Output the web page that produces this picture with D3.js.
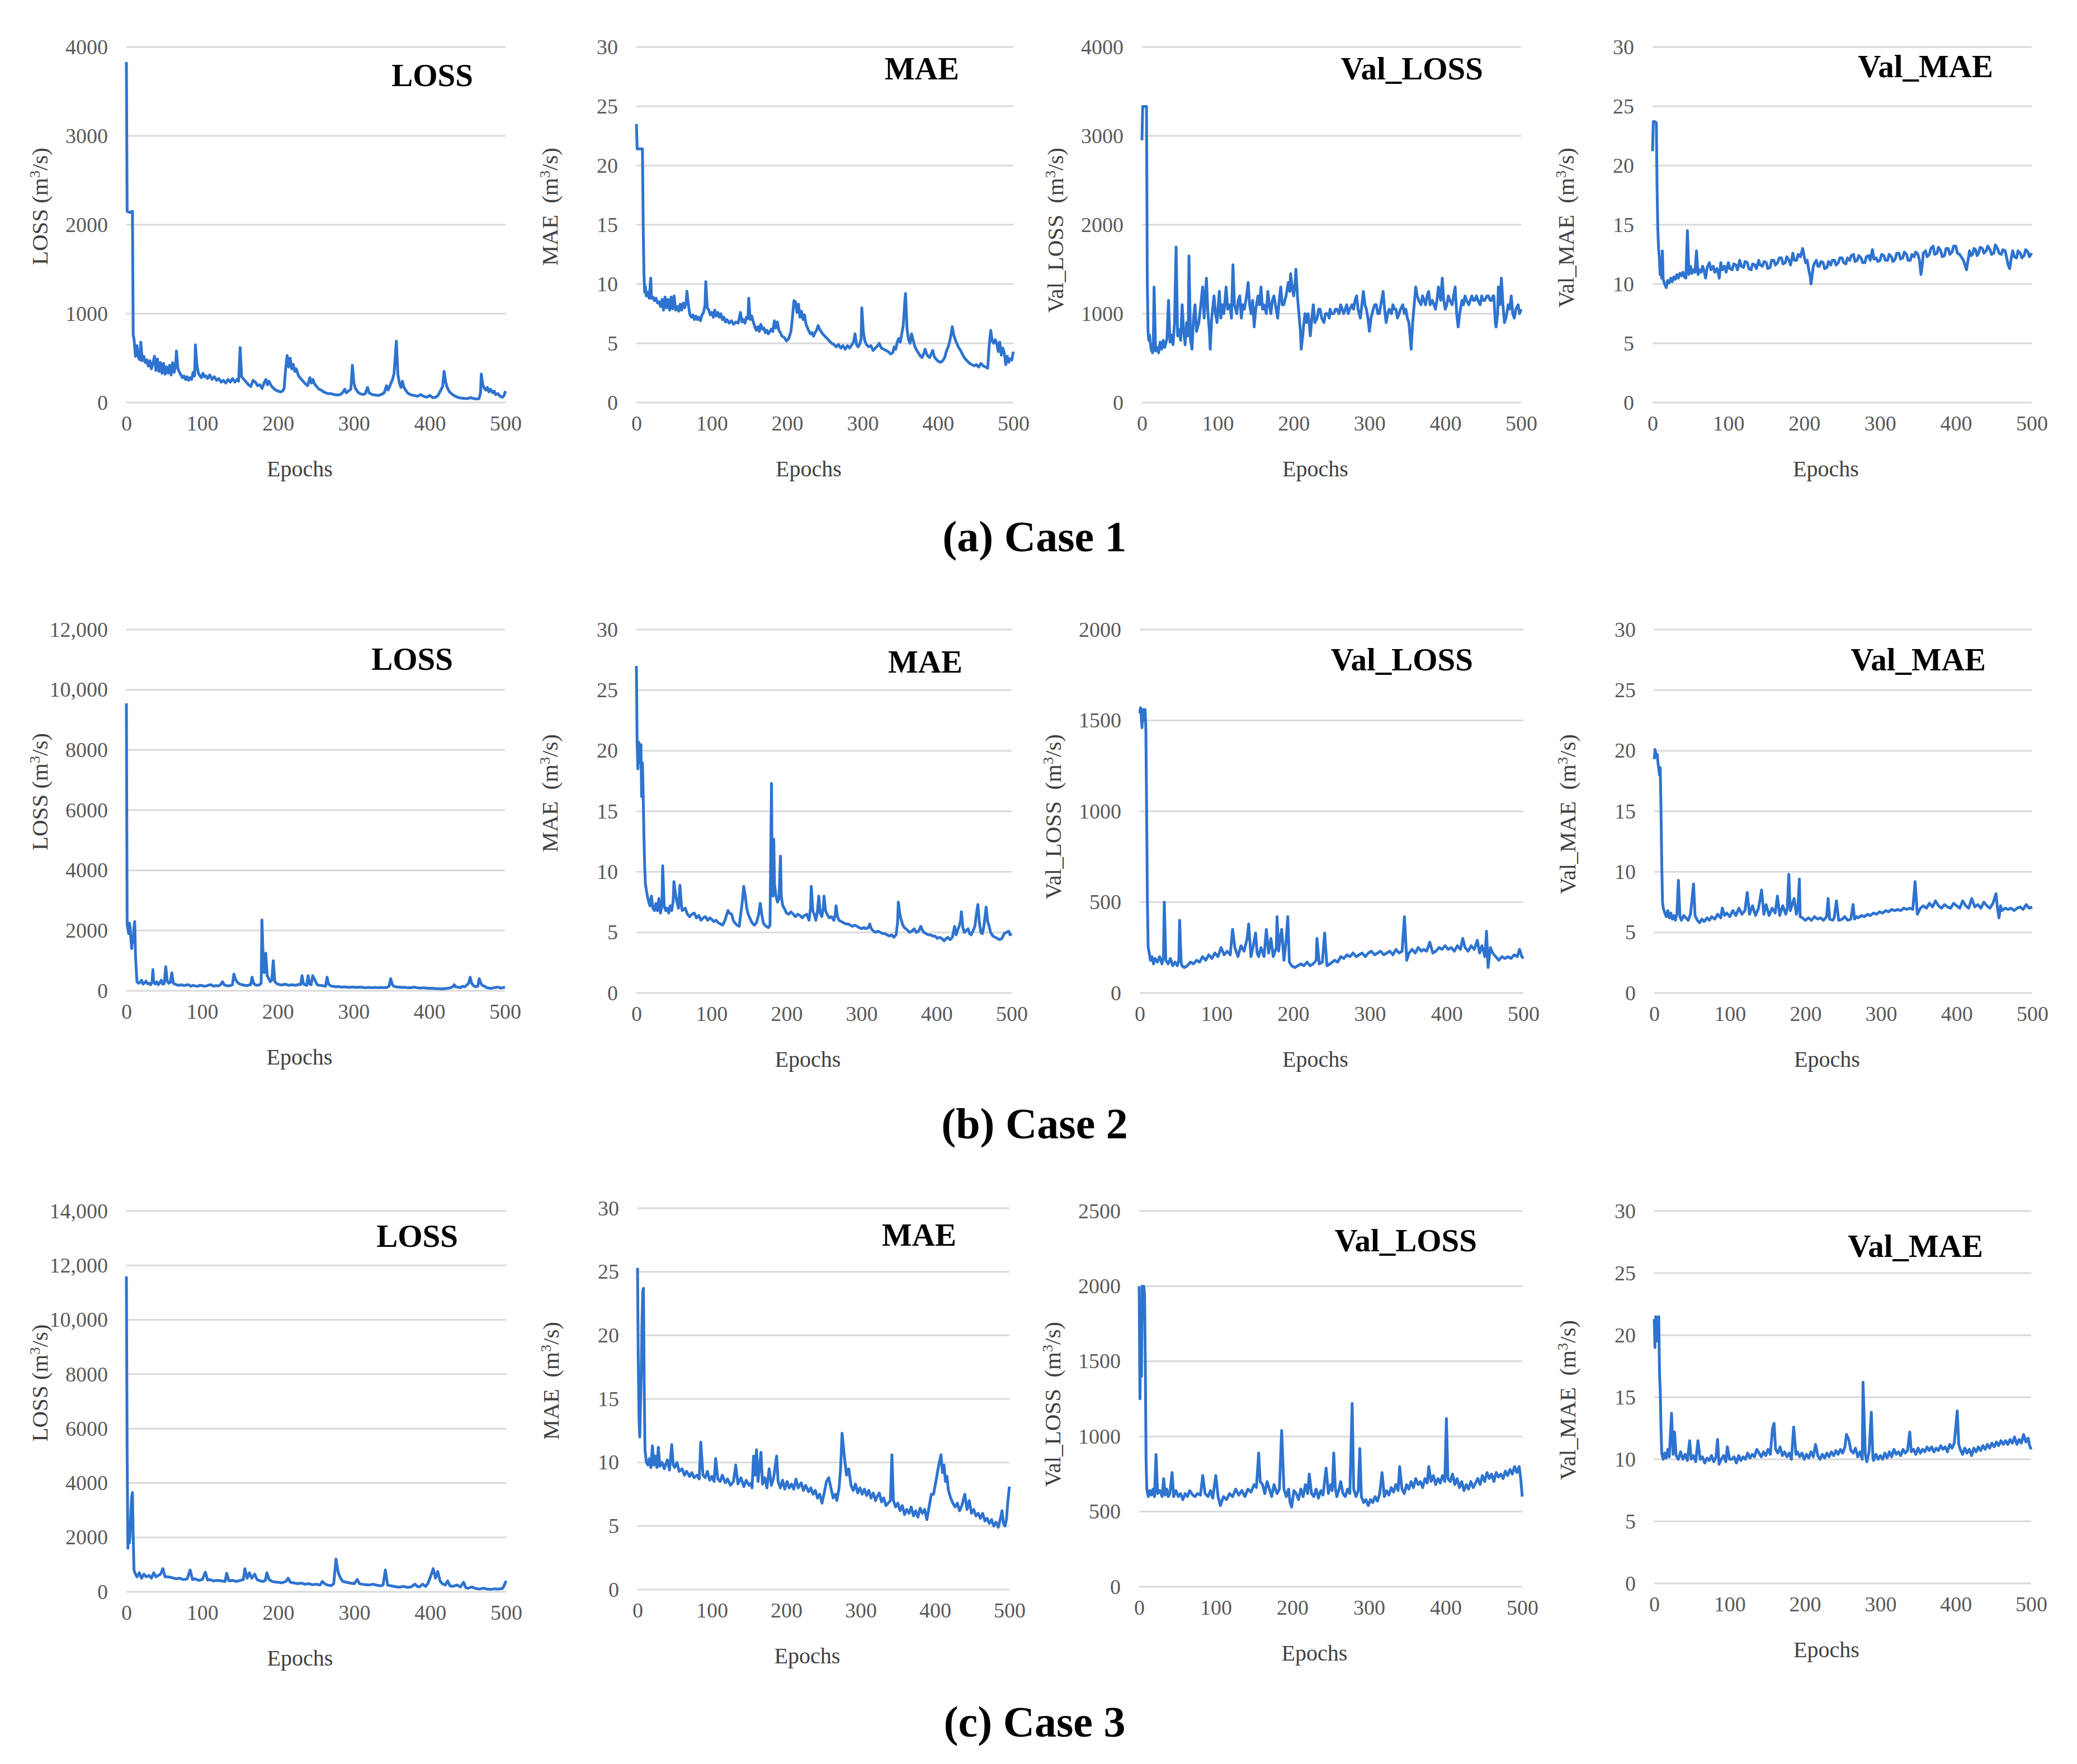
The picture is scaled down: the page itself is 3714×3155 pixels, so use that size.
<!DOCTYPE html>
<html>
<head>
<meta charset="utf-8">
<script src="https://cdn.jsdelivr.net/npm/d3@7"></script>
<style>
  body { margin: 0; background: #ffffff; }
  svg text { font-family: "Liberation Serif", "Times New Roman", serif; }
</style>
</head>
<body>
<div id="wrapper"></div>
<script>
// ---- values: [epoch, value] ----
const epochTicks = [0, 100, 200, 300, 400, 500];
const panelTitles = ["LOSS", "MAE", "Val_LOSS", "Val_MAE"];
const yLabelNames = ["LOSS ", "MAE  ", "Val_LOSS  ", "Val_MAE  "];
const caseLabels = ["(a) Case 1", "(b) Case 2", "(c) Case 3"];
const yMaxByCase = [[4000, 30, 4000, 30], [12000, 30, 2000, 30], [14000, 30, 2500, 30]];
const yStepByCase = [[1000, 5, 1000, 5], [2000, 5, 500, 5], [2000, 5, 500, 5]];

const case1Loss = [[0,3830],[1,2150],[4,2140],[8,2150],[9,760],[10,720],[12,520],[14,640],[16,500],[18,480],[19,680],[21,470],[23,520],[25,450],[27,480],[29,410],[31,470],[33,380],[35,440],[37,520],[39,360],[41,490],[43,350],[45,450],[47,330],[49,440],[51,320],[53,400],[55,330],[57,420],[59,310],[61,450],[63,340],[65,420],[66,580],[68,380],[70,340],[72,310],[74,280],[76,300],[78,260],[80,290],[82,250],[84,280],[86,260],[88,340],[90,300],[91,650],[93,420],[95,330],[97,300],[99,280],[101,330],[103,290],[105,300],[107,270],[110,310],[113,260],[116,290],[119,250],[122,270],[125,230],[128,250],[131,220],[134,260],[137,230],[140,270],[143,230],[146,260],[148,240],[150,620],[152,290],[155,260],[158,230],[161,200],[164,180],[167,250],[170,230],[173,190],[176,200],[179,160],[182,230],[184,260],[186,200],[188,240],[191,190],[194,160],[197,140],[200,130],[203,120],[206,130],[208,160],[210,380],[212,530],[214,400],[216,500],[218,380],[220,430],[222,350],[224,380],[227,300],[230,270],[233,240],[236,210],[239,190],[242,280],[244,220],[246,260],[248,210],[251,180],[254,150],[257,140],[260,120],[263,110],[266,100],[270,100],[274,90],[278,85],[282,90],[285,110],[288,150],[290,110],[293,130],[296,150],[298,420],[300,220],[302,160],[305,120],[308,100],[312,90],[315,100],[318,170],[320,110],[324,90],[328,85],[332,80],[336,90],[340,110],[343,190],[345,140],[348,200],[351,260],[353,330],[356,690],[358,320],[360,220],[362,170],[364,240],[366,170],[369,130],[372,100],[376,85],[380,80],[384,70],[388,90],[392,70],[396,60],[400,80],[404,55],[408,60],[411,80],[414,130],[417,180],[419,350],[421,230],[423,170],[426,120],[430,90],[434,70],[438,55],[442,50],[446,45],[450,45],[454,55],[458,45],[462,40],[465,45],[467,110],[468,320],[470,200],[472,160],[474,140],[476,170],[478,120],[480,150],[483,110],[485,130],[487,90],[490,100],[493,70],[496,60],[498,80],[500,130]];

const case1Mae = [[0,23.5],[1,21.4],[4,21.4],[8,21.4],[9,15],[10,10.9],[11,9.3],[12,9.8],[13,9.0],[15,9.3],[17,8.8],[19,10.5],[20,8.8],[22,8.9],[24,8.6],[26,8.8],[28,8.4],[30,8.5],[32,8.1],[34,8.7],[36,7.8],[38,8.9],[40,8.0],[42,8.7],[44,7.8],[46,8.9],[48,7.9],[50,9.0],[52,7.8],[54,8.1],[56,7.7],[58,8.3],[60,7.8],[62,8.4],[64,8.0],[66,8.5],[67,9.4],[69,8.2],[71,7.4],[73,7.2],[75,7.4],[77,7.0],[79,7.3],[81,7.0],[83,7.2],[85,6.9],[87,7.4],[89,7.6],[91,8.2],[92,10.2],[94,8.0],[96,7.8],[98,7.4],[100,7.6],[102,7.2],[104,7.8],[106,7.3],[108,7.6],[110,7.2],[112,7.5],[114,7.0],[116,7.2],[118,6.8],[120,7.0],[123,6.7],[126,6.9],[129,6.6],[132,6.8],[135,6.7],[138,7.6],[140,6.8],[142,7.0],[144,6.7],[146,7.2],[148,7.1],[149,8.8],[151,7.0],[153,7.3],[155,6.8],[157,6.4],[159,6.1],[161,6.4],[163,6.0],[165,6.6],[167,6.2],[169,6.3],[171,5.9],[173,6.1],[175,5.8],[177,6.0],[179,6.2],[181,6.0],[183,6.9],[185,6.3],[187,6.8],[189,6.1],[191,5.9],[193,5.6],[196,5.5],[199,5.2],[202,5.4],[205,6.0],[207,7.2],[209,8.6],[211,8.5],[213,7.6],[215,8.3],[217,7.2],[219,7.7],[221,7.0],[223,7.4],[225,6.6],[227,6.3],[229,6.0],[231,5.8],[233,5.9],[235,5.6],[237,5.9],[239,6.1],[241,6.5],[243,6.2],[245,6.0],[247,5.8],[250,5.6],[253,5.4],[256,5.2],[259,5.0],[262,4.9],[265,4.7],[268,4.9],[271,4.6],[274,4.8],[277,4.5],[280,4.8],[283,4.6],[286,4.9],[288,5.1],[290,5.8],[292,4.9],[294,4.7],[296,4.9],[298,5.3],[299,8.0],[301,6.0],[303,5.2],[305,4.9],[308,4.7],[311,4.8],[314,4.4],[317,4.6],[320,4.8],[322,5.0],[325,4.6],[328,4.5],[331,4.4],[334,4.3],[337,4.1],[340,4.2],[342,4.7],[344,4.5],[346,5.1],[348,5.4],[350,5.1],[352,5.8],[354,6.5],[356,8.5],[357,9.2],[359,6.2],[361,5.3],[363,5.0],[365,5.8],[367,5.3],[369,4.8],[371,4.5],[373,4.3],[375,4.1],[377,3.9],[379,3.8],[381,4.1],[383,4.5],[385,4.1],[387,3.9],[389,3.8],[391,4.1],[393,4.4],[395,3.9],[397,3.7],[400,3.5],[403,3.4],[406,3.5],[409,3.8],[411,4.3],[413,4.6],[415,5.0],[417,5.6],[419,6.4],[421,5.7],[423,5.3],[425,5.0],[427,4.7],[430,4.4],[433,4.0],[436,3.7],[439,3.5],[442,3.3],[445,3.2],[448,3.1],[451,3.2],[454,3.0],[457,3.3],[460,3.1],[463,3.0],[466,2.9],[468,4.8],[470,6.1],[472,5.2],[474,5.0],[476,5.3],[478,5.0],[480,4.3],[482,5.1],[484,4.0],[486,4.6],[488,4.2],[490,3.2],[492,3.9],[494,3.4],[496,3.7],[498,3.6],[500,4.3]];

const case1ValLoss = [[0,2950],[1,3330],[3,3330],[6,3330],[7,1380],[8,800],[9,700],[10,760],[12,600],[14,560],[15,650],[16,1300],[18,580],[20,620],[22,560],[24,680],[26,600],[28,700],[30,620],[33,720],[35,1150],[37,680],[39,760],[41,650],[43,900],[45,1750],[47,750],[49,820],[51,700],[53,1100],[55,800],[57,650],[59,900],[61,750],[62,1650],[64,700],[66,600],[68,950],[70,1100],[72,800],[75,900],[77,1050],[80,1300],[82,950],[85,1400],[87,1000],[89,800],[90,600],[92,950],[95,1200],[97,1000],[99,900],[102,1250],[104,950],[106,1100],[108,1000],[111,1300],[113,1050],[116,1100],[118,950],[120,1550],[122,1100],[125,1000],[127,1150],[129,1200],[131,950],[133,1100],[135,1050],[138,1200],[140,1350],[142,1100],[144,1000],[146,1150],[148,850],[150,1050],[153,1200],[155,1100],[157,1300],[159,1050],[161,1100],[164,1000],[166,1250],[168,1100],[170,1000],[172,1150],[174,1200],[177,1050],[179,950],[181,1150],[183,1300],[185,1100],[187,1100],[190,1200],[193,1350],[195,1250],[196,1450],[198,1300],[200,1200],[202,1350],[203,1500],[205,1200],[207,1000],[209,800],[210,600],[212,750],[213,850],[215,1000],[217,900],[219,1000],[221,850],[222,750],[224,950],[226,1100],[228,900],[231,950],[233,1050],[235,1050],[237,950],[240,900],[242,1000],[245,1000],[247,950],[248,1050],[250,1000],[253,1000],[255,1050],[257,1050],[260,1000],[262,1100],[264,1050],[266,1000],[268,1050],[270,1100],[272,1000],[274,1050],[277,1100],[279,1050],[281,1150],[283,1200],[285,1050],[288,950],[290,1100],[292,1250],[294,1100],[296,1050],[298,950],[300,800],[302,950],[305,1050],[307,1100],[309,1100],[311,1000],[313,1000],[315,1100],[318,1250],[320,1050],[322,900],[324,1000],[326,1050],[329,1000],[331,1100],[333,1050],[335,1050],[337,950],[339,1000],[341,1050],[344,1100],[346,1000],[348,1050],[350,950],[352,900],[355,600],[357,900],[359,1100],[361,1300],[363,1200],[365,1150],[368,1100],[370,1200],[372,1150],[374,1100],[376,1200],[378,1250],[380,1100],[383,1150],[385,1100],[387,1050],[389,1150],[391,1300],[394,1150],[396,1400],[398,1150],[400,1050],[402,1100],[404,1200],[406,1150],[409,1100],[411,1200],[413,1300],[415,1000],[417,850],[419,1000],[422,1150],[424,1100],[426,1200],[428,1150],[431,1100],[433,1150],[435,1200],[437,1150],[439,1150],[441,1200],[443,1150],[446,1100],[448,1200],[450,1150],[452,1150],[455,1200],[457,1200],[459,1150],[461,1150],[463,1200],[464,1200],[466,900],[467,850],[469,1000],[470,1300],[472,1100],[474,1400],[476,1100],[478,900],[480,950],[483,1100],[485,1050],[487,1200],[489,1000],[491,950],[493,1050],[496,1100],[498,1000],[500,1050]];

const case1ValMae = [[0,21.2],[1,23.7],[3,23.7],[5,23.6],[6,18],[7,14.5],[8,13.0],[9,12.2],[10,10.8],[11,11.5],[12,10.5],[13,12.8],[14,10.4],[16,10.0],[18,9.7],[20,10.3],[22,10.1],[24,10.5],[26,10.2],[28,10.6],[30,10.4],[32,10.8],[34,10.5],[36,10.9],[38,10.7],[40,11.0],[42,10.6],[44,10.5],[46,14.5],[48,10.8],[50,11.5],[52,10.9],[54,11.2],[56,11.0],[58,12.8],[60,10.8],[62,11.2],[64,11.0],[66,11.5],[68,11.1],[70,10.5],[72,11.4],[75,11.8],[77,11.2],[80,11.5],[82,11.0],[85,11.3],[87,10.8],[88,10.5],[90,11.8],[92,11.2],[95,11.5],[97,11.0],[100,11.8],[102,11.3],[105,11.2],[107,11.7],[110,11.6],[112,11.2],[115,12.0],[117,11.5],[120,11.4],[122,11.9],[125,11.8],[127,11.3],[130,11.2],[132,11.7],[135,11.6],[137,11.3],[140,12.0],[142,11.6],[145,11.5],[147,11.9],[150,11.8],[152,11.3],[155,11.4],[157,12.0],[160,12.0],[162,11.6],[165,11.8],[167,12.2],[170,12.2],[172,11.7],[175,11.8],[177,12.3],[180,12.0],[182,11.6],[185,12.6],[187,12.0],[190,12.0],[192,12.5],[195,12.3],[198,13.0],[200,12.3],[202,11.8],[204,12.0],[206,11.2],[208,10.6],[209,10.0],[211,11.0],[212,11.5],[214,11.8],[216,12.0],[218,11.5],[220,11.5],[222,11.9],[225,11.8],[227,11.3],[230,11.4],[232,11.9],[235,11.6],[237,12.0],[240,12.0],[242,11.6],[245,11.8],[247,12.2],[250,12.2],[252,11.8],[255,11.7],[257,12.2],[260,12.0],[262,12.4],[265,12.5],[267,11.9],[270,12.0],[272,12.4],[275,12.2],[277,11.8],[280,11.8],[282,12.3],[285,12.4],[287,12.0],[290,12.9],[292,12.1],[295,12.2],[297,11.9],[300,12.0],[302,12.5],[305,12.4],[307,12.0],[310,12.0],[312,12.5],[315,12.3],[317,11.9],[320,12.1],[322,12.6],[325,12.6],[327,12.1],[330,12.2],[332,12.7],[335,12.5],[337,12.0],[340,12.0],[342,12.5],[345,12.3],[347,12.7],[350,12.5],[352,12.0],[354,10.8],[356,11.8],[357,12.6],[360,12.8],[362,12.3],[365,12.5],[367,13.0],[370,13.2],[372,12.5],[375,12.6],[377,13.1],[380,12.8],[382,12.3],[385,12.4],[387,13.0],[390,13.0],[392,12.5],[395,12.7],[397,13.2],[400,13.2],[402,12.6],[405,12.5],[408,12.2],[410,12.0],[412,11.6],[414,11.2],[416,12.0],[418,12.8],[420,12.4],[422,12.5],[424,13.0],[426,12.9],[428,12.4],[430,12.6],[432,13.1],[435,13.0],[437,12.6],[440,12.8],[442,13.2],[445,12.9],[447,12.5],[450,12.6],[452,13.3],[455,13.0],[457,12.6],[460,12.5],[462,12.9],[465,12.8],[467,12.2],[469,11.6],[471,11.3],[473,12.2],[475,12.8],[477,12.3],[480,12.2],[482,12.8],[485,12.6],[487,12.2],[490,12.4],[492,12.9],[495,12.7],[497,12.3],[500,12.6]];

const case2Loss = [[0,9550],[1,2200],[2,2050],[3,1900],[4,2250],[5,2100],[6,1700],[7,1400],[8,1800],[9,1600],[10,2100],[11,2300],[12,1200],[13,700],[14,300],[16,250],[18,280],[20,350],[22,220],[24,260],[26,320],[28,230],[30,250],[32,200],[34,300],[35,700],[36,280],[38,230],[40,300],[42,200],[44,260],[46,350],[48,220],[50,240],[52,800],[54,320],[56,250],[58,280],[60,600],[62,250],[64,220],[66,200],[68,190],[70,180],[73,200],[76,170],[79,190],[82,200],[85,150],[88,180],[91,160],[94,150],[97,180],[100,170],[103,150],[106,160],[109,190],[112,200],[115,150],[118,170],[121,160],[124,190],[127,300],[129,200],[131,180],[134,160],[137,170],[140,200],[142,550],[144,380],[146,300],[148,250],[150,220],[153,200],[156,180],[159,170],[162,190],[164,200],[166,450],[168,250],[170,200],[173,180],[176,200],[178,250],[179,2350],[181,800],[182,600],[184,1250],[186,500],[188,400],[190,300],[192,350],[194,1000],[196,300],[198,250],[200,220],[203,200],[206,190],[209,220],[212,200],[215,180],[218,200],[221,190],[224,180],[227,210],[230,200],[232,500],[234,220],[236,200],[238,180],[240,500],[242,220],[244,200],[246,500],[248,400],[250,300],[252,200],[255,180],[258,170],[261,160],[263,150],[265,450],[267,220],[270,160],[273,150],[276,130],[279,140],[282,130],[285,120],[288,130],[291,120],[294,110],[297,120],[300,120],[304,110],[308,120],[312,110],[316,100],[320,110],[324,100],[328,110],[332,100],[336,110],[340,100],[344,110],[347,150],[349,400],[351,220],[353,150],[356,130],[360,120],[364,110],[368,110],[372,100],[376,100],[380,120],[384,100],[388,90],[392,100],[396,90],[400,80],[404,85],[408,70],[412,70],[416,60],[420,70],[424,80],[428,100],[431,130],[433,200],[435,130],[438,120],[441,100],[444,150],[447,130],[450,200],[452,250],[454,450],[456,250],[458,180],[461,130],[464,150],[466,400],[468,250],[470,180],[473,150],[476,100],[479,90],[482,80],[485,100],[488,110],[491,120],[494,90],[497,100],[500,120]];

const case2Mae = [[0,27.0],[1,20.5],[2,18.5],[3,20.7],[4,20.3],[5,19.0],[6,20.5],[7,16.2],[8,19.0],[9,16.5],[10,13.0],[11,10.5],[12,9.0],[14,8.2],[16,7.6],[18,7.2],[20,8.0],[22,7.0],[24,6.8],[26,7.4],[28,6.8],[30,7.8],[32,6.6],[34,7.2],[35,10.5],[37,7.2],[39,6.8],[41,7.0],[43,6.6],[45,7.2],[47,6.8],[49,7.6],[50,9.2],[52,8.2],[54,7.5],[56,7.0],[58,8.9],[60,7.2],[61,6.8],[63,6.9],[65,7.0],[68,6.5],[71,6.3],[74,6.5],[77,6.6],[80,6.2],[83,6.4],[86,6.0],[89,6.2],[92,6.3],[95,6.0],[98,6.2],[100,6.1],[103,5.9],[106,6.0],[109,5.8],[112,5.7],[115,5.6],[118,6.0],[120,6.4],[122,6.8],[124,6.6],[127,6.5],[129,6.0],[131,5.8],[134,5.6],[137,5.5],[139,6.5],[141,7.5],[143,8.8],[145,8.0],[147,7.0],[149,6.5],[151,6.2],[154,5.8],[157,5.6],[160,5.8],[163,6.5],[165,7.4],[167,6.5],[169,5.8],[171,5.6],[173,5.5],[176,5.4],[178,5.6],[180,17.3],[181,9.0],[182,8.0],[183,12.7],[184,9.0],[186,8.0],[188,7.5],[190,7.8],[192,11.3],[193,8.0],[195,7.2],[197,7.0],[200,6.6],[203,6.5],[206,6.7],[209,6.5],[212,6.3],[215,6.5],[218,6.4],[221,6.2],[224,6.4],[227,6.5],[230,6.0],[232,7.0],[233,8.8],[235,6.8],[237,6.5],[239,6.0],[241,6.6],[243,8.0],[245,6.6],[247,6.3],[249,7.0],[250,8.0],[252,6.8],[254,6.5],[257,6.2],[260,6.3],[263,6.0],[265,6.5],[266,7.2],[268,6.3],[270,6.0],[273,5.9],[276,5.8],[279,5.7],[282,5.7],[285,5.6],[288,5.5],[291,5.6],[294,5.5],[297,5.4],[300,5.3],[303,5.4],[306,5.3],[309,5.4],[311,5.7],[313,5.3],[316,5.1],[319,5.0],[322,5.1],[325,5.0],[328,4.9],[331,4.9],[334,4.8],[337,4.7],[340,4.8],[343,4.6],[346,4.8],[348,5.8],[349,7.5],[351,6.5],[353,6.0],[355,5.6],[357,5.4],[359,5.3],[361,5.2],[364,5.0],[367,5.1],[370,5.3],[373,5.0],[376,5.1],[379,5.5],[381,5.2],[383,5.0],[386,4.9],[389,4.8],[392,4.8],[395,4.7],[398,4.7],[401,4.5],[404,4.6],[407,4.5],[410,4.3],[413,4.5],[415,4.6],[418,4.4],[421,4.6],[424,5.5],[426,4.8],[428,5.2],[430,5.5],[432,6.0],[433,6.7],[435,5.4],[437,5.0],[440,5.2],[442,5.3],[444,4.9],[446,4.8],[449,5.2],[451,5.5],[453,6.5],[455,7.3],[457,5.8],[459,5.0],[461,4.9],[463,5.5],[466,7.1],[468,5.9],[470,5.5],[472,5.0],[475,4.7],[478,4.6],[481,4.5],[484,4.4],[487,4.5],[490,4.9],[493,5.0],[496,5.1],[498,4.8],[500,4.9]];

const case2ValLoss = [[0,1540],[1,1570],[2,1520],[3,1460],[4,1560],[5,1550],[6,1500],[7,1560],[8,1450],[9,1000],[10,500],[11,250],[12,230],[14,180],[16,200],[18,160],[20,190],[23,170],[26,200],[29,160],[31,200],[32,500],[34,180],[37,160],[40,190],[43,150],[46,170],[49,150],[51,180],[52,400],[54,170],[55,150],[58,140],[62,150],[66,170],[70,160],[74,180],[78,170],[82,200],[86,180],[90,210],[94,190],[98,220],[102,200],[106,250],[110,210],[114,230],[118,210],[121,350],[124,250],[128,200],[132,260],[136,230],[140,300],[142,380],[145,200],[148,260],[151,330],[153,220],[155,200],[158,250],[162,200],[165,350],[168,220],[171,300],[174,200],[178,250],[179,420],[181,230],[183,300],[185,350],[188,180],[191,300],[193,420],[195,170],[198,150],[202,140],[206,150],[210,160],[214,150],[218,170],[222,150],[226,160],[230,180],[231,300],[234,160],[238,170],[241,330],[244,150],[248,160],[251,170],[254,180],[258,170],[262,200],[266,190],[270,210],[274,200],[278,220],[282,200],[286,210],[290,220],[294,200],[298,220],[302,230],[306,210],[310,220],[314,230],[318,210],[322,220],[326,230],[330,210],[334,240],[338,220],[342,230],[345,420],[348,180],[351,220],[355,240],[359,220],[363,250],[367,230],[370,240],[374,230],[378,280],[382,220],[386,230],[390,250],[394,240],[398,260],[402,240],[406,250],[410,230],[414,260],[418,240],[421,300],[424,250],[428,230],[432,260],[436,240],[440,290],[443,220],[446,260],[450,200],[452,340],[454,140],[457,250],[460,220],[464,200],[468,180],[472,200],[476,190],[480,200],[484,190],[488,210],[492,200],[495,240],[498,200],[500,190]];

const case2ValMae = [[0,19.3],[1,20.1],[2,19.8],[3,19.5],[4,19.7],[5,19.0],[6,18.5],[7,18.0],[8,18.6],[9,15.0],[10,10.5],[11,7.5],[12,7.0],[14,6.6],[16,6.3],[18,6.8],[20,6.2],[22,6.6],[24,6.1],[26,6.4],[28,6.0],[30,6.5],[32,9.3],[34,6.3],[36,6.0],[39,6.4],[42,6.2],[45,6.0],[48,6.5],[52,9.0],[54,6.4],[57,6.0],[60,5.8],[63,6.1],[66,5.9],[70,6.2],[73,6.0],[76,6.3],[80,6.1],[84,6.5],[88,6.2],[90,7.0],[93,6.4],[96,6.6],[100,6.3],[104,6.8],[108,6.4],[112,7.0],[116,6.5],[120,6.8],[123,8.3],[126,6.5],[130,7.2],[134,6.4],[138,7.0],[142,8.5],[145,6.5],[148,7.3],[152,6.4],[156,7.0],[160,6.6],[163,8.0],[166,6.4],[170,7.2],[174,6.5],[176,7.0],[178,9.8],[180,6.8],[182,7.2],[185,7.8],[188,6.5],[190,7.0],[192,9.4],[193,6.3],[196,6.2],[200,6.0],[204,6.2],[208,6.0],[212,6.3],[216,6.1],[220,6.2],[224,6.0],[228,6.3],[230,7.8],[232,6.1],[236,6.0],[238,6.2],[241,7.6],[244,6.0],[249,6.1],[252,6.3],[256,6.0],[260,6.1],[263,7.3],[265,6.1],[268,6.3],[270,6.2],[274,6.4],[278,6.3],[282,6.5],[286,6.4],[290,6.6],[294,6.5],[298,6.7],[302,6.6],[306,6.8],[310,6.7],[314,6.9],[318,6.8],[322,6.9],[326,6.8],[330,7.0],[334,6.9],[338,7.0],[342,6.9],[345,9.2],[348,6.5],[352,7.0],[356,7.2],[360,7.0],[364,7.4],[368,7.1],[372,7.6],[376,7.2],[380,7.0],[384,7.3],[388,7.1],[392,7.0],[396,7.4],[400,7.2],[404,7.0],[408,7.6],[412,7.2],[416,7.0],[420,7.8],[424,7.1],[428,7.3],[432,7.0],[436,7.5],[440,7.2],[444,7.0],[448,7.4],[452,8.2],[454,7.0],[456,6.2],[458,7.2],[460,6.8],[464,7.0],[468,6.9],[472,7.0],[476,6.8],[480,7.0],[484,7.1],[488,6.9],[492,7.3],[496,7.0],[500,7.1]];

const case3Loss = [[0,11600],[1,5000],[2,1600],[3,2500],[4,1800],[5,2200],[6,3000],[7,3500],[8,3650],[9,2000],[10,800],[12,650],[14,550],[17,700],[20,500],[23,650],[26,550],[30,600],[33,500],[36,700],[39,550],[42,600],[45,650],[48,850],[51,550],[55,550],[60,520],[65,480],[70,500],[75,450],[80,470],[84,800],[87,450],[90,480],[95,420],[100,450],[104,720],[107,430],[110,450],[115,400],[120,420],[125,400],[130,380],[132,680],[135,400],[140,420],[145,380],[150,420],[154,450],[156,850],[159,500],[162,700],[165,500],[169,650],[172,450],[176,400],[180,380],[183,420],[185,700],[188,450],[192,380],[196,360],[200,350],[205,330],[210,380],[213,500],[216,350],[220,330],[225,300],[230,320],[235,280],[240,300],[245,260],[250,280],[255,250],[258,380],[262,280],[266,240],[270,230],[273,300],[276,1200],[279,700],[282,500],[285,380],[290,350],[295,320],[300,300],[304,450],[307,300],[310,280],[315,260],[320,250],[325,280],[330,240],[335,220],[338,250],[341,800],[344,250],[348,220],[352,200],[356,180],[360,170],[365,200],[370,160],[375,180],[380,280],[383,200],[386,180],[390,280],[394,200],[397,300],[401,600],[404,850],[407,500],[410,750],[413,400],[416,300],[420,250],[423,400],[426,220],[430,200],[435,250],[440,180],[444,350],[447,150],[450,130],[455,180],[460,120],[465,100],[470,130],[475,100],[480,90],[485,110],[490,100],[495,120],[497,200],[500,400]];

const case3Mae = [[0,25.3],[1,18.0],[2,13.5],[3,12.0],[4,14.5],[5,17.0],[6,21.0],[7,23.5],[8,23.7],[9,16.0],[10,11.0],[12,10.0],[14,9.8],[16,10.3],[18,9.6],[20,11.3],[22,9.8],[24,10.5],[26,9.6],[28,11.2],[30,9.7],[33,10.0],[36,9.5],[40,10.2],[43,9.4],[46,11.4],[48,9.8],[50,9.6],[53,10.0],[56,9.3],[60,9.5],[63,9.0],[66,9.3],[70,8.9],[73,9.2],[76,8.8],[80,9.0],[83,8.7],[85,11.6],[88,9.0],[91,8.8],[94,9.3],[97,8.6],[100,8.9],[103,8.5],[105,10.3],[108,8.7],[111,8.5],[114,9.0],[118,8.4],[121,8.7],[125,8.2],[129,8.5],[132,9.8],[135,8.3],[139,8.8],[143,8.1],[146,8.6],[150,8.2],[153,8.4],[154,8.0],[156,10.5],[158,9.0],[160,11.0],[162,8.5],[166,10.8],[168,8.3],[171,8.8],[174,8.0],[177,9.5],[180,8.2],[183,8.8],[187,10.5],[189,8.5],[192,8.0],[195,8.6],[198,7.9],[201,8.5],[204,8.0],[207,8.3],[210,7.9],[213,8.7],[216,8.0],[220,8.4],[223,7.8],[226,8.2],[230,7.7],[233,8.0],[236,7.5],[239,7.8],[242,7.2],[245,7.5],[248,6.8],[251,7.6],[254,8.5],[257,8.8],[260,8.0],[263,7.2],[266,7.5],[268,7.0],[271,8.0],[273,9.5],[275,12.3],[278,10.5],[281,9.0],[284,9.5],[287,8.2],[290,7.8],[293,8.3],[296,7.6],[299,8.0],[302,7.5],[305,7.9],[308,7.4],[311,7.8],[314,7.2],[317,7.6],[320,7.0],[322,7.3],[325,7.6],[328,6.9],[331,7.2],[334,6.6],[337,6.8],[340,7.0],[342,10.6],[344,7.0],[347,6.5],[350,6.8],[353,6.2],[356,6.6],[359,5.9],[362,6.3],[365,6.0],[368,6.5],[371,5.8],[374,6.2],[377,5.7],[380,6.4],[383,6.0],[386,6.3],[389,5.5],[392,6.5],[395,7.5],[398,7.5],[402,8.8],[405,9.8],[408,10.6],[410,9.2],[412,9.8],[414,8.5],[416,8.9],[418,7.8],[421,7.2],[424,6.8],[427,6.5],[430,6.8],[433,6.2],[436,6.6],[440,7.5],[443,6.3],[446,7.0],[449,6.0],[452,6.3],[455,5.8],[458,6.0],[461,5.6],[464,6.0],[467,5.4],[470,5.6],[473,5.2],[476,5.5],[479,5.0],[482,5.3],[485,4.9],[488,5.6],[490,6.2],[492,5.2],[494,5.0],[496,5.5],[498,7.0],[500,8.1]];

const case3ValLoss = [[0,2000],[1,1250],[2,1700],[3,1400],[4,2000],[5,1800],[6,2000],[7,1950],[8,1500],[9,850],[10,650],[11,620],[12,600],[14,640],[16,610],[18,650],[20,600],[22,880],[24,620],[27,640],[30,600],[32,720],[34,610],[36,650],[38,600],[40,620],[43,760],[45,600],[48,640],[51,600],[54,620],[57,580],[60,620],[63,600],[66,640],[70,610],[73,600],[76,620],[80,610],[83,740],[86,620],[90,600],[93,640],[96,590],[100,740],[103,600],[106,540],[110,600],[114,580],[118,620],[122,600],[126,650],[130,610],[134,640],[138,600],[142,650],[146,630],[150,680],[153,660],[156,890],[158,700],[161,680],[164,620],[167,700],[170,650],[173,600],[176,680],[180,620],[183,650],[186,1040],[189,650],[192,600],[195,650],[197,560],[199,530],[202,640],[205,620],[208,580],[211,650],[214,600],[217,680],[220,620],[222,750],[225,620],[228,600],[231,650],[234,590],[237,640],[240,610],[244,790],[247,620],[250,680],[252,640],[254,890],[256,660],[258,600],[261,650],[263,700],[266,620],[269,600],[272,650],[275,620],[278,1220],[280,650],[283,600],[286,640],[288,920],[290,600],[293,560],[296,580],[299,540],[302,580],[305,560],[308,600],[311,570],[314,620],[317,760],[320,600],[323,640],[326,610],[329,660],[332,630],[335,680],[338,640],[340,800],[343,650],[346,620],[349,680],[352,650],[355,700],[358,660],[361,720],[364,680],[367,700],[370,660],[373,720],[376,690],[378,800],[381,700],[384,740],[387,680],[390,720],[393,690],[396,740],[399,700],[401,1120],[403,720],[406,700],[409,750],[412,680],[415,720],[418,660],[421,700],[424,640],[427,680],[430,650],[433,700],[436,660],[439,690],[442,720],[445,680],[448,740],[451,700],[454,760],[457,720],[460,750],[463,700],[466,760],[469,730],[472,750],[475,720],[478,770],[481,740],[484,780],[487,750],[490,800],[493,760],[496,800],[498,720],[500,600]];

const case3ValMae = [[0,21.3],[1,19.0],[2,21.5],[3,20.0],[4,21.4],[5,19.5],[6,21.5],[7,17.0],[8,15.5],[9,12.5],[10,10.5],[11,10.2],[12,10.0],[14,10.5],[16,10.1],[18,10.8],[20,10.2],[23,13.7],[25,10.4],[27,12.2],[29,10.3],[32,10.0],[35,10.6],[38,10.0],[41,10.4],[44,9.9],[47,11.5],[49,10.0],[52,10.3],[55,9.8],[58,11.5],[61,10.0],[64,10.2],[67,9.7],[70,10.1],[73,9.9],[76,10.3],[79,9.8],[82,10.2],[84,11.6],[86,9.6],[89,10.0],[92,10.3],[95,9.8],[97,11.0],[100,10.0],[103,10.0],[106,10.2],[109,9.7],[112,10.3],[115,9.9],[118,10.2],[121,10.0],[124,10.5],[127,10.1],[130,10.4],[133,10.2],[136,10.8],[139,10.5],[142,10.2],[145,10.6],[148,10.3],[151,10.8],[154,10.4],[157,12.5],[159,12.9],[161,10.8],[164,10.5],[167,11.0],[170,10.3],[173,10.6],[176,10.2],[179,10.5],[182,10.0],[185,12.6],[188,10.4],[190,10.6],[193,10.2],[196,10.5],[199,10.0],[202,10.4],[205,10.1],[208,10.6],[211,10.2],[214,11.2],[217,10.3],[220,10.0],[223,10.4],[226,10.1],[229,10.5],[232,10.2],[235,10.6],[238,10.3],[241,10.7],[244,10.4],[247,10.8],[250,10.5],[253,11.0],[255,12.0],[258,11.6],[261,10.7],[264,10.5],[267,10.9],[270,10.2],[273,10.6],[276,10.0],[277,16.2],[280,10.4],[282,9.8],[285,10.6],[288,13.8],[290,10.2],[291,9.9],[294,10.4],[297,10.0],[300,10.3],[303,10.0],[306,10.5],[309,10.1],[312,10.6],[315,10.2],[318,10.8],[321,10.4],[324,10.6],[327,10.3],[330,10.8],[333,10.5],[336,10.7],[339,12.2],[341,10.6],[344,10.8],[347,10.4],[350,10.9],[353,10.5],[356,10.8],[359,10.6],[362,11.0],[365,10.7],[368,11.0],[371,10.6],[374,10.9],[377,10.7],[380,11.1],[383,10.8],[386,11.0],[389,10.6],[392,11.2],[395,10.9],[398,11.3],[402,13.9],[404,11.2],[406,10.8],[409,10.4],[412,10.9],[415,10.5],[418,10.8],[421,10.3],[424,10.9],[427,10.6],[430,11.0],[433,10.7],[436,11.1],[439,10.8],[442,11.2],[445,10.9],[448,11.3],[451,11.0],[454,11.4],[457,11.1],[460,11.5],[463,11.2],[466,11.5],[469,11.2],[472,11.6],[475,11.3],[478,11.8],[481,11.2],[484,11.6],[487,11.3],[490,12.0],[493,11.4],[496,11.7],[498,11.1],[500,10.8]];

const seriesByCase = [
    [case1Loss, case1Mae, case1ValLoss, case1ValMae],
    [case2Loss, case2Mae, case2ValLoss, case2ValMae],
    [case3Loss, case3Mae, case3ValLoss, case3ValMae],
];

// ---- layout (pixels) ----
const dimensions = { width: 3714, height: 3155 };
// [left, right, top, bottom] of every plot area
const plotBoxes = [
    [[226, 904, 84, 720], [1138, 1812, 84, 720], [2042, 2720, 84, 720], [2955, 3633, 84, 720]],
    [[226, 903, 1126, 1772], [1138, 1809, 1126, 1776], [2038, 2724, 1126, 1776], [2958, 3634, 1126, 1776]],
    [[226, 905, 2166, 2847], [1140, 1805, 2161, 2843], [2037, 2722, 2166, 2838], [2958, 3632, 2166, 2832]],
];
// title: distance of its right edge from plot right, caps centre below plot top
const titleOffsets = [
    [[58, 51], [97, 39], [68, 39], [69, 35]],
    [[93, 53], [88, 58], [90, 54], [83, 54]],
    [[86, 45], [95, 48], [81, 53], [86, 63]],
];
const caseLabelBaseline = [986, 2036, 3106];

const lineColor = "#2e73cf";
const gridColor = "#d9d9d9";
const tickColor = "#595959";

const wrapper = d3.select("#wrapper")
    .append("svg")
    .attr("width", dimensions.width)
    .attr("height", dimensions.height)
    .style("background", "#ffffff");

const yFormat = (v) => (v >= 10000 ? d3.format(",")(v) : String(v));

seriesByCase.forEach((caseSeries, r) => {
    caseSeries.forEach((data, c) => {
        const [left, right, top, bottom] = plotBoxes[r][c];
        const yMax = yMaxByCase[r][c];
        const yStep = yStepByCase[r][c];
        const yTicks = d3.range(0, yMax + yStep / 2, yStep);

        const xScale = d3.scaleLinear().domain([0, 500]).range([left, right]);
        const yScale = d3.scaleLinear().domain([0, yMax]).range([bottom, top]);

        const panel = wrapper.append("g");

        // gridlines
        panel.append("g")
            .selectAll("line")
            .data(yTicks)
            .join("line")
            .attr("x1", left)
            .attr("x2", right)
            .attr("y1", (d) => yScale(d))
            .attr("y2", (d) => yScale(d))
            .attr("stroke", gridColor)
            .attr("stroke-width", 3);

        // y axis
        const yAxis = panel.append("g")
            .attr("transform", `translate(${left},0)`)
            .call(d3.axisLeft(yScale).tickValues(yTicks).tickSize(0).tickPadding(33).tickFormat(yFormat))
            .attr("font-family", null);
        yAxis.select(".domain").remove();
        yAxis.selectAll("text")
            .attr("fill", tickColor)
            .style("font-size", "38px");

        // x axis
        const xAxis = panel.append("g")
            .attr("transform", `translate(0,${bottom})`)
            .call(d3.axisBottom(xScale).tickValues(epochTicks).tickSize(0).tickPadding(0).tickFormat(d3.format("d")))
            .attr("font-family", null);
        xAxis.select(".domain").remove();
        xAxis.selectAll("text")
            .attr("fill", tickColor)
            .attr("y", 37)
            .attr("dy", "0.35em")
            .style("font-size", "38px");

        // series line
        const lineGenerator = d3.line()
            .x((d) => xScale(d[0]))
            .y((d) => yScale(d[1]));

        panel.append("path")
            .attr("d", lineGenerator(data))
            .attr("fill", "none")
            .attr("stroke", lineColor)
            .attr("stroke-width", 5)
            .attr("stroke-linejoin", "round");

        // title
        const [tdx, tdy] = titleOffsets[r][c];
        panel.append("text")
            .attr("x", right - tdx)
            .attr("y", top + tdy + 19)
            .attr("text-anchor", "end")
            .attr("fill", "#000000")
            .style("font-size", "57px")
            .style("font-weight", "bold")
            .text(panelTitles[c]);

        // x label
        panel.append("text")
            .attr("x", (left + right) / 2 - 29)
            .attr("y", bottom + 118)
            .attr("dy", "0.35em")
            .attr("text-anchor", "middle")
            .attr("fill", "#404040")
            .style("font-size", "40px")
            .text("Epochs");

        // y label, its end aligned above plot middle
        const yLabel = panel.append("text")
            .attr("transform", `translate(${left - 155},${(top + bottom) / 2 - 138}) rotate(-90)`)
            .attr("text-anchor", "end")
            .attr("dy", "0.35em")
            .attr("fill", "#404040")
            .style("font-size", "41px")
            .style("white-space", "pre");
        yLabel.append("tspan").text(yLabelNames[c] + "(m");
        yLabel.append("tspan").attr("dy", "-14").style("font-size", "26px").text("3");
        yLabel.append("tspan").attr("dy", "14").text("/s)");
    });

    wrapper.append("text")
        .attr("x", 1850)
        .attr("y", caseLabelBaseline[r])
        .attr("text-anchor", "middle")
        .attr("fill", "#000000")
        .style("font-size", "78px")
        .style("font-weight", "bold")
        .text(caseLabels[r]);
});
</script>
</body>
</html>
